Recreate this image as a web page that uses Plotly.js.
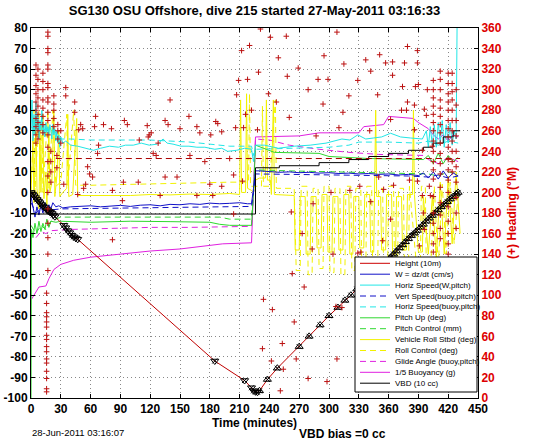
<!DOCTYPE html>
<html><head><meta charset="utf-8">
<script src="https://cdn.plot.ly/plotly-3.0.1.min.js"></script>
<style>html,body{margin:0;padding:0;background:#fff;}#chart{width:546px;height:442px;}</style>
</head><body><div id="chart"></div>
<script>
// ---------------- DATA ----------------
const seriesNames = ['Height (10m)','W = dz/dt (cm/s)','Horiz Speed(W,pitch)','Vert Speed(buoy,pitch)',
  'Horiz Speed(buoy,pitch)','Pitch Up (deg)','Pitch Control (mm)','Vehicle Roll Stbd (deg)',
  'Roll Control (deg)','Glide Angle (buoy,pitch)','1/5 Buoyancy (g)','VBD (10 cc)'];

const xTickVals = [0,30,60,90,120,150,180,210,240,270,300,330,360,390,420,450];
const xTickText = ['0','30','60','90','120','150','180','210','240','270','300','330','360','390','420','450'];
const yTickVals = [-100,-90,-80,-70,-60,-50,-40,-30,-20,-10,0,10,20,30,40,50,60,70,80];
const yTickText = ['-100','-90','-80','-70','-60','-50','-40','-30','-20','-10','0','10','20','30','40','50','60','70','80'];
const y2TickVals = [0,20,40,60,80,100,120,140,160,180,200,220,240,260,280,300,320,340,360];
const y2TickText = ['0','20','40','60','80','100','120','140','160','180','200','220','240','260','280','300','320','340','360'];

// Height (10 m)
const heightT = [0,1.5,3,4.5,6,7.5,9,10.5,12,13.5,
  15,16.5,18,19.5,21,22.5,24,33,35,37,
  39,41,43,45,47,185,215,222,224,226,
  228,230,238,248,270,280,291,300,309,316,
  322,328,334,340,346,352,358,362,365,368,
  371,374,377,380,383,386,389,392,395,398,
  401,404,407,410,413,416,419,422,425,428,
  430];
const heightV = [0,-0.8,-1.6,-2.5,-3.4,-4.2,-5,-5.9,-6.6,-7.3,
  -8,-8.6,-9.2,-9.6,-10.2,-11,-11.8,-16,-17.2,-18.6,
  -19.6,-20.8,-21.6,-22.2,-22.8,-82,-91.5,-95,-96.5,-97,
  -97.2,-96.5,-91,-85.5,-75,-70,-64.5,-60,-56,-52.5,
  -50,-47,-44.5,-41.5,-39,-36,-33.5,-31.5,-30,-28.5,
  -27,-25.5,-24,-22.5,-21,-19.8,-18.5,-17,-15.5,-14,
  -12.5,-11.2,-10,-8.5,-7,-5.8,-4.5,-3.2,-2,-0.8,
  0];

// W = dz/dt
const wT = [0,2,4,6,8,10,12,14,16,18,
  20,22,25,28,32,40,50,60,70,80,
  90,100,110,120,130,140,150,160,170,180,
  190,200,210,218,222,224,226,230,240,250,
  260,270,280,290,300,310,320,330,340,350,
  360,370,380,390,395,400,405,410,415,420,
  425,430];
const wV = [-2,-8,-12,-7,-11,-6,-10,-5,-9,-6,
  -8,-5,-7,-6.5,-7.5,-7,-6.8,-6.5,-7,-6.5,
  -6.3,-6.8,-6.2,-6,-6.5,-5.8,-6,-5.5,-5.8,-5.2,
  -5.5,-5.3,-5,-5.5,-5.5,2,10.5,10.5,10,9.8,
  10,9.6,9.8,9.4,9.6,9.2,9.4,9,9.2,8.8,
  9,8.5,8.8,8.2,9.5,7,10,6.5,10.5,7,
  9.5,8];

// Horiz Speed (W,pitch)
const hsT = [0,1,2,3,4,5,6,7,8,9,
  10,11,12,13,14,15,16,17,18,19,
  20,21,22,23,24,25,26,27,28,29,
  30,32,35,40,47,55,63,70,79,88,
  95,103,111,119,127,133,137,143,151,159,
  167,175,185,192,198,207,215,222,224,226,
  235,249,265,281,297,313,321,329,337,345,
  353,362,372,382,394,398,400,402,404,406,
  408,410,412,414,416,418,420,422,424,426,
  428,429,430];
const hsV = [30,45,25,38,28,44,30,38,26,35,
  30,40,28,33,27,34,29,32,28,33,
  30,26,33,28,31,25,30,24,28,22,
  27,24,25,23,22.5,21.5,20.5,21.5,22.5,22,
  23,23,24,23,23.5,26,24,23.5,22.5,22.5,
  22,22,21,21.5,20,20.5,21.5,21,15,23,
  23,21.5,22.5,23,24,26,25.5,28,26,26.5,
  27,28.8,27,26.5,26,30,22,32,23,33,
  22,34,24,35,22,33,24,34,23,30,
  26,85,90];

// Vert Speed (buoy,pitch)
const vsT = [0,5,10,15,20,30,60,100,140,180,222,224,226,260,300,340,380,400,410,420,430];
const vsV = [-5,-10,-8,-9,-8.5,-8,-7.8,-7.5,-7.3,-7,-6.8,0,9,8.8,8.6,8.4,8,7.5,8.5,7,8];

// Horiz Speed (buoy,pitch)
const hbT = [0,5,10,15,20,25,30,40,60,80,100,120,140,160,180,200,222,224,226,260,300,320,330,360,390,400,410,420,430];
const hbV = [32,30,33,30,31,29,26,26,25.5,25.5,25.5,25.5,25,24.5,23.5,22.5,22.5,18,21,21.5,22,23,24.5,24.5,24,25,23,25,24];

// Pitch Up (deg)
const puT = [0,0.5,2,4,6,8,10,12,14,16,18,20,25,30,60,100,140,180,190,200,
  222,224,226,245,290,300,340,395,400,405,410,415,420,425,430];
const puV = [-105,-18,-22,-15,-20,-14,-19,-15,-18,-13,-17,-14,-14.5,-14,-14.5,-14,-14.2,-14.5,-15.5,-16,
  -16,0,23,19.5,19,17.5,16.5,16,18,14,19,14,18,15,17];

// Pitch Control (mm)
const pcT = [0,5,10,15,20,25,30,100,190,200,222,224,226,260,300,350,400,410,420,430];
const pcV = [-16,-20,-16,-18,-14,-13,-12,-12,-12,-13,-13,0,11,10.5,10,9.5,9,8,10,9];

// Vehicle Roll Stbd (deg)
const rollT = [0,2,3,5,6,8,9,10,12,13,
  15,16,18,19,21,23,24,26,28,29,
  32,36,37,38,42,46,47,60,80,100,
  120,140,160,180,200,210,211,212,216,217,
  218,222,224,226,230,236,237,238,241,242,
  244,245,265,266,270,271,276,277,281,282,
  287,288,292,293,298,299,303,304,309,310,
  314,315,320,321,324,325,330,331,335,336,
  341,342,345,346,347,348,352,353,357,358,
  363,364,367,368,373,374,378,379,384,385,
  386,390,394,395,400,404,408,412,416,420,
  424,428,432];
const rollV = [0,25,-5,35,2,-8,30,0,38,-3,
  10,-6,32,0,5,40,-2,8,30,-2,
  0,2,38,-2,-1,36,-1.5,-1.5,-1.2,-1.5,
  -1,-1.2,-0.8,-1,-0.5,-1,45,0,0,48,
  2,1,0,6,7,7,45,6,6,-1,
  45,-1,-1.5,-28,-28,-2,-2,-30,-30,-2,
  -2,-27,-27,-1,-1,-29,-29,-2,-2,-28,
  -28,-1,-1,-30,-30,-2,-2,-27,-27,-1,
  -1,-29,-29,-2,40,-2,-2,-28,-28,-1,
  -1,-30,-30,-2,-2,-28,-28,-1,-1,40,
  -1,-29,-29,-2,-30,-2,-32,5,-30,8,
  -25,10,-20];

// Roll Control (deg)
const rcT = [0,3,4,8,9,11,12,17,18,22,
  25,30,36,37,43,45,60,100,140,180,
  200,219,220,221,226,232,233,234,240,246,
  247,265,267,271,272,278,279,283,284,289,
  290,294,295,300,301,305,306,311,312,316,
  317,322,323,326,327,332,333,337,338,343,
  344,349,350,354,355,359,360,365,366,369,
  370,375,376,380,381,388,392,393,397,398,
  402,406,410,414,418,422,426,430];
const rcV = [0,40,0,40,5,38,0,40,2,40,
  3,5,38,3.5,40,3.5,3.5,4,4.2,4.8,
  5,5,48,3,3,3,42,3,3,45,
  2,2,-38,-38,3,3,-40,-40,2,2,
  -37,-37,3,3,-39,-39,2,2,-40,-40,
  3,3,-38,-38,2,2,-41,-41,3,3,
  -38,-38,2,2,-40,-40,3,3,-39,-39,
  2,2,-38,-38,3,-35,-35,3,3,-40,
  -40,3,-36,4,-30,5,-25,0];

// Glide Angle (buoy,pitch)
const gaT = [5,10,15,20,40,80,120,160,200,222,224,226,240,260,290,320,350,395,400,410,420,430];
const gaV = [-22,-19,-20,-18.6,-18,-17.5,-17,-17,-16.5,-16.5,0,26,25.5,23,21,19.5,18.5,18,16,14,17,15];

// 1/5 Buoyancy (g)
const buT = [0.5,3,8,15,18,23,30,43,60,90,120,150,180,193,222,224,226,270,290,330,
  335,355,360,385,390,400,405,410,415,420,425,430];
const buV = [-52,-50,-46,-45.5,-42,-37.5,-35,-33,-31.5,-30,-28.5,-27.5,-26,-25,-24.5,0,27,27.5,29,29,
  32,33,37,36,34,31,28,26,28,25,28,27];

// VBD (10 cc)
const vbdT = [0,224,226,250,290,320,340,360,380,395,405,415,425,432];
const vbdV = [-10.5,-10.5,12,13,14.5,16,17.5,19,20.5,22,24,27,30,30];

// Desired heading (right axis, deg)
const desHdgT = [25,432];
const desHdgV = [233,233];

// Heading (+), right axis, deg: dense stacks
const hdgStackTimes = [5,7,12,17,15.7,20,23,26,27,30,405,412,420,424,428];
const hdgStackDeg = [
  [324,314,304,296,288,280,272,264,256,248],
  [320,310,300,292,284,276,268,260,252],
  [316,308,300,290,282,274,266,258],
  [356,352,340,336,324,320,306,302,292,288,278,270,256,244,230,216,200,184,170,156,140,124],
  [102,92,83,79,74,69,61,57,50,45,38,34,26,19,9,6],
  [240,230,220,210],
  [294,286,280,272,264],
  [236,224],
  [266,260,252],
  [260,248],
  [309,300,292,284,276,268,260,250,240,230,222,213,196,180,170,160,150,142],
  [318,310,300,290,282,274,266,258,248,238,228,218,205,190,178,165,155],
  [316,306,296,288,280,270,262,254,244,232,222,212,200,186,172,160,150,140],
  [316,306,298,290,280,270,260,250,240,230,220],
  [300,285,270,255,240,225,210,195,180,165]
];
// Heading scattered, descent
const hdgDescT = [35,35,44,44,50,52,65,64,73,81,
  68,94,97,109,117,119,121,118,123,126,
  128,135,138,140,150,159,160,167,170,175,
  181,186,188,192,200,48,57,59,53,67,
  62,82,92,108,130,135,147,167,180,192,
  183,82,55,93,33,47];
const hdgDescDeg = [302,294,288,278,266,262,274,264,266,262,
  246,270,266,251,265,256,258,254,238,236,
  248,270,266,290,262,274,236,264,258,230,
  256,269,267,259,233,261,225,218,204,238,
  215,202,192,210,197,215,215,197,208,206,
  197,154,208,210,208,198];
// Heading scattered, climb (upper)
const hdgClimbUpT = [231,241,257,308,212,220,249,295,209,218,
  229,239,258,269,279,289,299,315,329,337,
  342,351,357,320,349,364,376,379,389,389,
  374,387,390,399,378,386,373,398,207,216,
  222,247,260,294,314,206,214,228,287,310,
  341,386,394,404,362,379,396,364];
const hdgClimbUpDeg = [359,351,352,356,338,343,331,333,309,310,
  317,296,313,321,300,310,310,325,309,329,
  318,334,326,294,295,314,326,342,338,326,
  303,303,305,300,280,285,280,275,295,276,
  280,288,273,286,278,263,263,261,255,263,
  260,261,241,245,271,288,281,327];
// Heading scattered, climb (lower)
const hdgClimbLowT = [204,213,204,262,273,283,284,302,321,331,
  329,342,350,355,365,362,381,389,394,395,
  354,332,263,304,234,243,275,265,233,242,
  253,254,267,251,279,298,308,307,313,401,
  402,396,391];
const hdgClimbLowDeg = [217,211,179,181,160,145,189,200,202,206,
  141,191,215,203,207,174,212,211,197,180,
  153,142,121,140,96,86,108,74,48,36,
  53,28,38,7,19,16,38,89,88,206,
  197,164,148];

// ---------------- STYLE ----------------
const FONT = 'Liberation Sans, Arial, Helvetica, sans-serif';
const DASH = '6px,4px';
const styles = [
  {color:'#cc0000', dash:'solid'},
  {color:'#1010c8', dash:'solid'},
  {color:'#22e6e6', dash:'solid'},
  {color:'#1010c8', dash:DASH},
  {color:'#22e6e6', dash:DASH},
  {color:'#2fd82f', dash:'solid'},
  {color:'#2fd82f', dash:DASH},
  {color:'#f2f200', dash:'solid'},
  {color:'#f2f200', dash:DASH},
  {color:'#e020e0', dash:DASH},
  {color:'#e020e0', dash:'solid'},
  {color:'#000000', dash:'solid'}
];

function lineTrace(t, v, idx, extra) {
  return Object.assign({
    type:'scatter', mode:'lines', x:t, y:v, name:seriesNames[idx], showlegend:false,
    line:{color:styles[idx].color, dash:styles[idx].dash, width:1}, hoverinfo:'skip'
  }, extra || {});
}

// heading points
let hT = [], hD = [];
hdgStackTimes.forEach((t, i) => hdgStackDeg[i].forEach(d => { hT.push(t); hD.push(d); }));
hT = hT.concat(hdgDescT, hdgClimbUpT, hdgClimbLowT);
hD = hD.concat(hdgDescDeg, hdgClimbUpDeg, hdgClimbLowDeg);

// descent markers point down, climb markers point up
const bottomIdx = heightV.indexOf(Math.min(...heightV));
const heightSymbols = heightV.map((v, i) => i <= bottomIdx ? 'triangle-down-open' : 'triangle-up-open');

const traces = [
  lineTrace(buT, buV, 10),
  lineTrace(gaT, gaV, 9),
  lineTrace(rollT, rollV, 7),
  lineTrace(rcT, rcV, 8),
  lineTrace(pcT, pcV, 6),
  lineTrace(puT, puV, 5),
  lineTrace(hbT, hbV, 4),
  lineTrace(hsT, hsV, 2),
  lineTrace(vsT, vsV, 3),
  lineTrace(wT, wV, 1),
  lineTrace(vbdT, vbdV, 11, {line:{color:'#000', width:1, shape:'hv'}}),
  {type:'scatter', mode:'lines', x:desHdgT, y:desHdgV, yaxis:'y2', showlegend:false, hoverinfo:'skip',
   line:{color:'#aa0000', width:1, dash:DASH}},
  lineTrace(heightT, heightV, 0, {line:{color:'#c00000', width:1}}),
  {type:'scatter', mode:'markers', x:heightT, y:heightV, showlegend:false, hoverinfo:'skip',
   marker:{symbol:heightSymbols, size:7, color:'#000', line:{color:'#000', width:1}}},
  {type:'scatter', mode:'markers', x:heightT, y:heightV, showlegend:false, hoverinfo:'skip',
   marker:{symbol:'x-thin-open', size:5, color:'#000', line:{color:'#000', width:1}}},
  {type:'scatter', mode:'markers', x:hT, y:hD, yaxis:'y2', name:'Heading', showlegend:false, hoverinfo:'skip',
   marker:{symbol:'cross-thin-open', size:4, color:'#bb1111', line:{color:'#bb1111', width:1}}}
];

// ---------------- LAYOUT ----------------
const W = 546, H = 442;
const M = {l:31, r:68, t:28, b:44};
const px2x = px => (px - M.l) / (W - M.l - M.r);
const py2y = py => (H - M.b - py) / (H - M.t - M.b);

const shapes = [{type:'rect', xref:'paper', yref:'paper', x0:px2x(355), x1:px2x(477), y0:py2y(392), y1:py2y(257),
  fillcolor:'#fff', line:{color:'#000', width:1}, layer:'above'}];
const annotations = [];
seriesNames.forEach((name, i) => {
  const py = 263.3 + i * 10.9;
  shapes.push({type:'line', xref:'paper', yref:'paper', x0:px2x(360), x1:px2x(390), y0:py2y(py), y1:py2y(py),
    line:{color:styles[i].color, dash:styles[i].dash, width:1}, layer:'above'});
  annotations.push({xref:'paper', yref:'paper', x:px2x(393), y:py2y(py), xanchor:'left', yanchor:'middle',
    text:name, showarrow:false, font:{family:FONT, size:8, color:'#000'}});
});
annotations.push({xref:'paper', yref:'paper', x:px2x(30), y:py2y(433), xanchor:'left', yanchor:'middle',
  text:'28-Jun-2011 03:16:07', showarrow:false, font:{family:FONT, size:9.5, color:'#000'}});
annotations.push({xref:'paper', yref:'paper', x:px2x(342), y:py2y(434), xanchor:'center', yanchor:'middle',
  text:'VBD bias =0 cc', showarrow:false, font:{family:FONT, size:12, weight:'bold', color:'#000'}});

const tickFont = {family:FONT, size:12, weight:'bold', color:'#000'};
const layout = {
  width:W, height:H, margin:{l:M.l, r:M.r, t:M.t, b:M.b, pad:0},
  paper_bgcolor:'#fff', plot_bgcolor:'#fff', showlegend:false,
  title:{text:'SG130 OSU Offshore, dive 215 started 27-May-2011 03:16:33',
    font:{family:FONT, size:13, weight:'bold', color:'#000'},
    x:0.5, xref:'paper', xanchor:'center', y:1 - 10/H, yref:'container', yanchor:'middle'},
  xaxis:{range:[0,450], tickvals:xTickVals, ticktext:xTickText, ticks:'inside', ticklen:4, tickcolor:'#000',
    showline:true, linecolor:'#000', linewidth:1, mirror:'ticks', showgrid:true, gridcolor:'#888',
    griddash:'1px,3px', gridwidth:1, zeroline:false, tickfont:tickFont, automargin:false,
    title:{text:'Time (minutes)', font:tickFont, standoff:2}},
  yaxis:{range:[-100,80], tickvals:yTickVals, ticktext:yTickText, ticks:'inside', ticklen:4, tickcolor:'#000',
    showline:true, linecolor:'#000', linewidth:1, mirror:false, showgrid:true, gridcolor:'#888',
    griddash:'1px,3px', gridwidth:1, zeroline:false, tickfont:tickFont, automargin:false},
  yaxis2:{range:[0,360], overlaying:'y', side:'right', tickvals:y2TickVals, ticktext:y2TickText,
    ticks:'inside', ticklen:4, tickcolor:'#000', showline:true, linecolor:'#000', linewidth:1,
    showgrid:false, zeroline:false, automargin:false,
    tickfont:{family:FONT, size:12, weight:'bold', color:'#dd0000'},
    title:{text:'(+) Heading (°M)', font:{family:FONT, size:12, weight:'bold', color:'#dd0000'}, standoff:6}},
  shapes:shapes, annotations:annotations
};

Plotly.newPlot('chart', traces, layout, {displayModeBar:false, staticPlot:true});
</script></body></html>
